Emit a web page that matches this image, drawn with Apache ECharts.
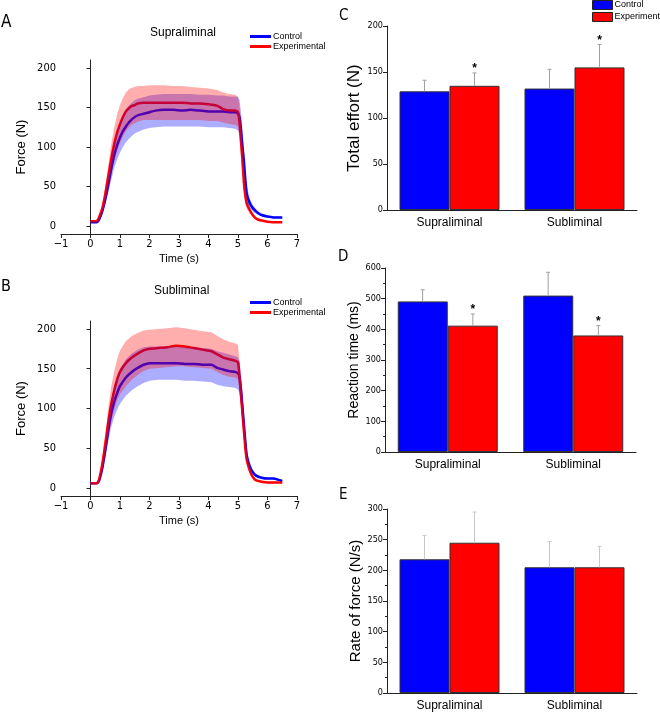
<!DOCTYPE html>
<html>
<head>
<meta charset="utf-8">
<script src="https://cdn.jsdelivr.net/npm/echarts@6/dist/echarts.min.js"></script>
<style>
  html, body { margin: 0; padding: 0; background: #fff; }
  #chart { width: 660px; height: 712px; }
</style>
</head>
<body>
<div id="chart"></div>
<script>
// --- panel A: supraliminal force traces (mean and band) ---
var timeA = [0, 0.2, 0.25, 0.3, 0.4, 0.5, 0.6, 0.7, 0.8, 0.9, 1.0, 1.1, 1.2, 1.3, 1.4, 1.5, 1.6, 1.8, 2.0, 2.2, 2.5, 2.8, 3.1, 3.4, 3.7, 4.0, 4.3, 4.5, 4.7, 4.9, 5.0, 5.05, 5.1, 5.15, 5.2, 5.25, 5.3, 5.4, 5.5, 5.6, 5.7, 5.8, 6.0, 6.2, 6.5];
var ctrlA   = [5, 5, 6, 9, 19, 34, 52, 72, 89, 102, 112, 120, 126, 131, 135, 138, 140, 142, 144, 146, 147, 147, 146, 147, 146, 145, 145, 145, 144, 144, 142, 138, 122, 100, 82, 58, 40, 29, 23, 19, 16, 14, 12, 11, 11];
var ctrlALo = [4, 4, 5, 7, 15, 27, 42, 58, 73, 84, 93, 100, 106, 110, 114, 117, 119, 122, 124, 125, 126, 126, 126, 126, 126, 125, 125, 125, 124, 123, 121, 116, 100, 80, 64, 45, 31, 23, 19, 16, 14, 12, 11, 10, 10];
var ctrlAHi = [6, 6, 7, 11, 23, 41, 62, 86, 105, 120, 131, 140, 147, 152, 156, 159, 161, 163, 165, 166, 167, 167, 167, 167, 166, 166, 165, 165, 164, 164, 163, 160, 145, 122, 100, 71, 50, 35, 27, 22, 18, 16, 13, 12, 12];
var expA    = [6, 6, 8, 12, 22, 40, 62, 84, 103, 118, 129, 138, 145, 149, 152, 153, 155, 156, 156, 156, 156, 156, 156, 155, 155, 154, 152, 148, 146, 146, 144, 132, 108, 84, 55, 38, 28, 20, 14, 10, 8, 7, 5.5, 5, 5];
var expALo  = [5, 5, 6, 9, 17, 31, 48, 66, 82, 95, 105, 113, 120, 125, 128, 130, 132, 134, 134, 134, 134, 134, 134, 134, 134, 133, 133, 131, 129, 128, 126, 112, 88, 66, 42, 29, 22, 16, 12, 9, 7, 6, 5, 4.5, 4.5];
var expAHi  = [7, 7, 10, 15, 28, 50, 77, 103, 124, 141, 153, 162, 169, 173, 175, 176, 177, 177, 178, 178, 178, 177, 177, 176, 175, 174, 172, 169, 167, 166, 164, 152, 128, 102, 68, 47, 34, 24, 16, 11, 9, 8, 6, 5.5, 5.5];

// --- panel B: subliminal force traces ---
var timeB = [0, 0.2, 0.25, 0.3, 0.4, 0.5, 0.6, 0.7, 0.8, 0.9, 1.0, 1.2, 1.4, 1.6, 1.8, 2.0, 2.3, 2.6, 2.9, 3.2, 3.5, 3.8, 4.1, 4.3, 4.5, 4.7, 4.9, 5.0, 5.05, 5.1, 5.15, 5.2, 5.25, 5.3, 5.4, 5.5, 5.6, 5.8, 6.0, 6.2, 6.4, 6.5];
var ctrlB   = [6, 6, 7, 10, 25, 47, 72, 93, 108, 119, 128, 139, 146, 151, 155, 157, 157, 157, 157, 156, 156, 155, 155, 151, 149, 147, 146, 144, 140, 124, 102, 80, 58, 40, 27, 20, 16, 13, 12, 12, 10, 9];
var ctrlBLo = [5, 5, 6, 8, 20, 38, 58, 76, 89, 98, 106, 116, 123, 128, 132, 135, 136, 136, 136, 135, 135, 134, 133, 130, 128, 127, 126, 124, 119, 104, 85, 66, 48, 33, 22, 17, 14, 12, 11, 11, 9, 8];
var ctrlBHi = [7, 7, 8, 12, 30, 56, 86, 110, 127, 140, 150, 162, 169, 174, 177, 178, 178, 178, 178, 177, 177, 176, 175, 172, 170, 168, 166, 164, 160, 144, 120, 94, 68, 47, 32, 23, 18, 14, 13, 13, 11, 10];
var expB    = [6, 6, 7, 12, 30, 55, 82, 105, 122, 136, 146, 157, 164, 169, 173, 175, 176, 177, 179, 178, 176, 174, 172, 168, 164, 162, 160, 158, 140, 118, 95, 72, 50, 35, 22, 14, 10, 8, 7, 7, 7, 7];
var expBLo  = [5, 5, 6, 9, 23, 43, 64, 83, 98, 110, 118, 128, 136, 142, 147, 150, 151, 152, 153, 153, 152, 151, 150, 146, 142, 140, 139, 137, 120, 100, 80, 60, 42, 29, 18, 12, 9, 7, 6, 6, 6, 6];
var expBHi  = [7, 7, 9, 15, 37, 67, 100, 127, 146, 162, 173, 185, 191, 195, 198, 199, 200, 201, 202, 201, 199, 197, 196, 191, 187, 184, 182, 180, 160, 136, 110, 84, 58, 41, 26, 16, 11, 9, 8, 8, 8, 8];

var forceTicks = [0, 50, 100, 150, 200];

// --- panels C, D, E: bar means and SD ---
var categories = ['Supraliminal', 'Subliminal'];
var effortCtrl = [129, 132], effortCtrlSd = [12, 21];
var effortExp = [135, 155], effortExpSd = [14, 25];
var effortSig = [1, 1];
var rtCtrl = [491, 510], rtCtrlSd = [38, 76];
var rtExp = [412, 380], rtExpSd = [38, 32];
var rtSig = [1, 1];
var rateCtrl = [218, 205], rateCtrlSd = [39, 42];
var rateExp = [245, 205], rateExpSd = [50, 34];
var rateSig = [0, 0];

var SANS = "'Liberation Sans', Arial, sans-serif";
var NARROW = "'Liberation Sans Narrow', 'DejaVu Sans Condensed', sans-serif";
var AXIS = '#222';

function pairs(t, v) {
  return t.map(function(x, i) { return [x, v[i]]; });
}

function timeAxis(grid) {
  return {
    type: 'value', gridIndex: grid, min: -1, max: 7, interval: 1,
    name: 'Time (s)', nameLocation: 'middle', nameGap: 19,
    nameTextStyle: { fontFamily: SANS, fontSize: 11, color: '#000' },
    axisLine: { onZero: false, lineStyle: { color: AXIS } },
    axisTick: { length: 4, lineStyle: { color: AXIS } },
    axisLabel: {
      fontFamily: NARROW, fontSize: 11, color: '#000', margin: 5,
      formatter: function(v) { return String(v).replace('-', '\u2212'); }
    },
    splitLine: { show: false }
  };
}
function forceAxis(grid) {
  return {
    type: 'value', gridIndex: grid, min: -10, max: 210,
    name: 'Force (N)', nameLocation: 'middle', nameGap: 33,
    nameTextStyle: { fontFamily: SANS, fontSize: 13, color: '#000' },
    axisLine: { show: true, lineStyle: { color: AXIS } },
    axisTick: { show: true, length: 4, customValues: forceTicks, lineStyle: { color: AXIS } },
    axisLabel: { fontFamily: NARROW, fontSize: 11, color: '#000', margin: 5, customValues: forceTicks },
    splitLine: { show: false }
  };
}
function catAxes(grid) {
  return [{
    type: 'category', gridIndex: grid, data: categories, position: 'bottom',
    axisLine: { lineStyle: { color: AXIS } },
    axisTick: { alignWithLabel: true, length: 4, lineStyle: { color: AXIS } },
    axisLabel: { fontFamily: SANS, fontSize: 12, color: '#000', margin: 7 }
  }, {
    type: 'category', gridIndex: grid, data: categories, position: 'bottom',
    axisLine: { show: false },
    axisTick: { length: 4, lineStyle: { color: AXIS } },
    axisLabel: { show: false }
  }];
}
function valAxis(grid, name, nameSize, max, interval, minor) {
  return {
    type: 'value', gridIndex: grid, min: 0, max: max, interval: interval,
    name: name, nameLocation: 'middle', nameGap: 24,
    nameTextStyle: { fontFamily: SANS, fontSize: nameSize, color: '#000' },
    axisLine: { show: true, lineStyle: { color: AXIS } },
    axisTick: { show: true, length: 4, lineStyle: { color: AXIS } },
    minorTick: { show: minor, splitNumber: 2, length: 2, lineStyle: { color: AXIS } },
    axisLabel: { fontFamily: NARROW, fontSize: 9, color: '#000', margin: 4 },
    splitLine: { show: false }
  };
}

function bar(name, xi, yi, data, color) {
  return {
    type: 'bar', name: name, xAxisIndex: xi, yAxisIndex: yi, data: data,
    barWidth: 50, barGap: '0%',
    itemStyle: { color: color, borderColor: '#333', borderWidth: 1 }
  };
}
function errBars(xi, yi, means, sds, sig, side, color) {
  return {
    type: 'custom', xAxisIndex: xi, yAxisIndex: yi, z: 3,
    data: means.map(function(m, i) { return [i, m, m + sds[i], sig[i]]; }),
    encode: { x: 0, y: [1, 2] },
    renderItem: function(params, api) {
      var bandW = api.size([1, 0])[0];
      var p0 = api.coord([api.value(0), api.value(1)]);
      var p1 = api.coord([api.value(0), api.value(2)]);
      var x = p0[0] + side * bandW * 0.2;
      var kids = [
        { type: 'line', shape: { x1: x, y1: p0[1], x2: x, y2: p1[1] }, style: { stroke: color, lineWidth: 1 } },
        { type: 'line', shape: { x1: x - 2, y1: p1[1], x2: x + 2, y2: p1[1] }, style: { stroke: color, lineWidth: 1 } }
      ];
      if (api.value(3)) {
        kids.push({ type: 'text', x: x, y: p1[1] - 10,
          style: { text: '*', fill: '#000', font: 'bold 12px ' + SANS, align: 'center', verticalAlign: 'top' } });
      }
      return { type: 'group', children: kids };
    }
  };
}

function meanLine(name, xi, t, v, color) {
  return {
    type: 'line', name: name, xAxisIndex: xi, yAxisIndex: xi, data: pairs(t, v),
    symbol: 'none', smooth: 0.2, z: 2,
    lineStyle: { color: color, width: 2.5 }, itemStyle: { color: color }
  };
}
// shaded band between lo and hi, drawn as one polygon through the axis scales
function band(xi, t, lo, hi, fill) {
  return {
    type: 'custom', xAxisIndex: xi, yAxisIndex: xi, z: 3, silent: true,
    data: t.map(function(x, i) { return [x, lo[i], hi[i]]; }),
    encode: { x: 0, y: [1, 2] },
    renderItem: function(params, api) {
      if (params.dataIndex !== 0) return null;
      var upper = t.map(function(x, i) { return api.coord([x, hi[i]]); });
      var lower = t.map(function(x, i) { return api.coord([x, lo[i]]); }).reverse();
      return { type: 'polygon', shape: { points: upper.concat(lower) }, style: { fill: fill } };
    }
  };
}

var letter = function(text, left, top, size) {
  return { text: text, left: left, top: top, padding: 0,
    textStyle: { fontFamily: NARROW, fontSize: size, fontWeight: 'normal', color: '#000' } };
};
var heading = function(text, left, top) {
  return { text: text, left: left, top: top, padding: 0,
    textStyle: { fontFamily: SANS, fontSize: 12, fontWeight: 'normal', color: '#000' } };
};
var lineLegend = function(top) {
  return {
    left: 250, top: top, orient: 'vertical', padding: 0, itemGap: 1,
    data: ['Control', 'Experimental'], icon: 'rect', itemWidth: 21, itemHeight: 3,
    itemStyle: { borderWidth: 0 }, selectedMode: false,
    textStyle: { fontFamily: SANS, fontSize: 9, color: '#000', padding: [0, 0, 0, -3] }
  };
};

var chart = echarts.init(document.getElementById('chart'));

chart.setOption({
  animation: false,
  title: [
    letter('A', 1, 14, 17), letter('B', 1, 279, 16),
    letter('C', 339, 9, 15), letter('D', 338, 250, 15), letter('E', 339, 488, 15),
    heading('Supraliminal', 150, 27), heading('Subliminal', 154, 285)
  ],
  legend: [
    lineLegend(32), lineLegend(298),
    {
      left: 592, top: 0, orient: 'vertical', padding: 0, itemGap: 2,
      data: ['Control', 'Experiment'], icon: 'rect', itemWidth: 20, itemHeight: 9,
      itemStyle: { borderColor: '#222', borderWidth: 1 }, selectedMode: false,
      textStyle: { fontFamily: SANS, fontSize: 9, color: '#000', padding: [0, 0, 0, -3] }
    }
  ],
  grid: [
    { left: 61, top: 60, width: 236, height: 174 },
    { left: 61, top: 321, width: 236, height: 175 },
    { left: 387, top: 26, width: 250, height: 184 },
    { left: 385, top: 268, width: 251, height: 184 },
    { left: 387, top: 509, width: 250, height: 184 }
  ],
  xAxis: [timeAxis(0), timeAxis(1)].concat(catAxes(2), catAxes(3), catAxes(4)),
  yAxis: [
    forceAxis(0), forceAxis(1),
    valAxis(2, 'Total effort (N)', 17, 200, 50, false),
    valAxis(3, 'Reaction time (ms)', 14, 600, 100, true),
    valAxis(4, 'Rate of force (N/s)', 15, 300, 50, true)
  ],
  series: [
    bar('Control', 2, 2, effortCtrl, '#0000ff'),
    bar('Experiment', 2, 2, effortExp, '#ff0000'),
    errBars(2, 2, effortCtrl, effortCtrlSd, [0, 0], -1, '#a0a0a0'),
    errBars(2, 2, effortExp, effortExpSd, effortSig, 1, '#a0a0a0'),
    bar('Control', 4, 3, rtCtrl, '#0000ff'),
    bar('Experiment', 4, 3, rtExp, '#ff0000'),
    errBars(4, 3, rtCtrl, rtCtrlSd, [0, 0], -1, '#a0a0a0'),
    errBars(4, 3, rtExp, rtExpSd, rtSig, 1, '#a0a0a0'),
    bar('Control', 6, 4, rateCtrl, '#0000ff'),
    bar('Experiment', 6, 4, rateExp, '#ff0000'),
    errBars(6, 4, rateCtrl, rateCtrlSd, [0, 0], -1, '#c8c8c8'),
    errBars(6, 4, rateExp, rateExpSd, rateSig, 1, '#c8c8c8'),

    meanLine('Control', 0, timeA, ctrlA, '#0000ff'),
    meanLine('Experimental', 0, timeA, expA, '#ff0000'),
    band(0, timeA, ctrlALo, ctrlAHi, 'rgba(0,0,255,0.32)'),
    band(0, timeA, expALo, expAHi, 'rgba(255,0,0,0.32)'),

    meanLine('Control', 1, timeB, ctrlB, '#0000ff'),
    meanLine('Experimental', 1, timeB, expB, '#ff0000'),
    band(1, timeB, ctrlBLo, ctrlBHi, 'rgba(0,0,255,0.32)'),
    band(1, timeB, expBLo, expBHi, 'rgba(255,0,0,0.32)')
  ]
});
</script>
</body>
</html>
